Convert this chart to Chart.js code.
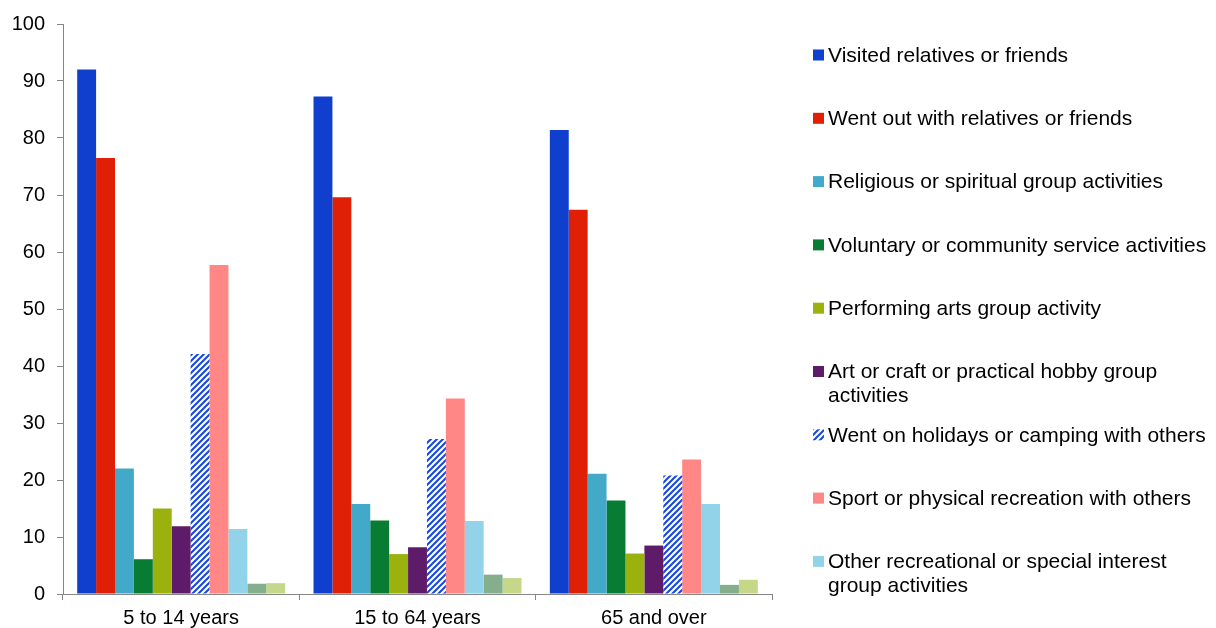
<!DOCTYPE html>
<html>
<head>
<meta charset="utf-8">
<script src="https://cdn.jsdelivr.net/npm/chart.js@4"></script>
<style>
  html, body { margin: 0; padding: 0; background: #fff; }
  #wrap { width: 1216px; height: 628px; position: relative; }
</style>
</head>
<body>
<div id="wrap"><canvas id="chart" width="1216" height="628"></canvas></div>
<script>
const categories = ['5 to 14 years', '15 to 64 years', '65 and over'];

const seriesNames = [
  'Visited relatives or friends',
  'Went out with relatives or friends',
  'Religious or spiritual group activities',
  'Voluntary or community service activities',
  'Performing arts group activity',
  'Art or craft or practical hobby group activities',
  'Went on holidays or camping with others',
  'Sport or physical recreation with others',
  'Other recreational or special interest group activities',
  'Series 10',
  'Series 11'
];

// legend text split into lines as in the picture (last two series are cut off there)
const legendLines = [
  ['Visited relatives or friends'],
  ['Went out with relatives or friends'],
  ['Religious or spiritual group activities'],
  ['Voluntary or community service activities'],
  ['Performing arts group activity'],
  ['Art or craft or practical hobby group', 'activities'],
  ['Went on holidays or camping with others'],
  ['Sport or physical recreation with others'],
  ['Other recreational or special interest', 'group activities']
];

const visited    = [92.0, 87.3, 81.4];
const wentOut    = [76.5, 69.6, 67.4];
const religious  = [22.0, 15.8, 21.1];
const voluntary  = [6.1, 12.9, 16.4];
const performing = [15.0, 7.0, 7.1];
const artCraft   = [11.9, 8.2, 8.5];
const holidays   = [42.1, 27.2, 20.8];
const sport      = [57.7, 34.3, 23.6];
const otherRec   = [11.4, 12.8, 15.8];
const series10   = [1.8, 3.4, 1.6];
const series11   = [1.9, 2.8, 2.5];

const yTicks = [0, 10, 20, 30, 40, 50, 60, 70, 80, 90, 100];

const ctx = document.getElementById('chart').getContext('2d');

function hatch() {
  const c = document.createElement('canvas');
  c.width = 6; c.height = 6;
  const x = c.getContext('2d');
  x.fillStyle = '#ffffff';
  x.fillRect(0, 0, 6, 6);
  x.strokeStyle = '#1446e6';
  x.lineWidth = 2;
  x.beginPath();
  x.moveTo(-1, 7); x.lineTo(7, -1);
  x.moveTo(-4, 4); x.lineTo(4, -4);
  x.moveTo(2, 10); x.lineTo(10, 2);
  x.stroke();
  return ctx.createPattern(c, 'repeat');
}

const colors = ['#0f3fcc', '#e01f07', '#43a9c8', '#087c33', '#9bb20e', '#5e1b6a',
  hatch(), '#ff8886', '#93d3ea', '#85af8c', '#c5d88a'];

const values = [visited, wentOut, religious, voluntary, performing, artCraft,
  holidays, sport, otherRec, series10, series11];

const legendPlugin = {
  id: 'sideLegend',
  afterDraw(chart) {
    const c = chart.ctx;
    c.save();
    c.font = '21px "Liberation Sans", Arial, sans-serif';
    c.fillStyle = '#000';
    c.textBaseline = 'middle';
    legendLines.forEach((lines, i) => {
      const y = 55 + i * 63.3;
      c.fillStyle = colors[i];
      c.fillRect(813, y - 5.5, 11, 11);
      c.fillStyle = '#000';
      lines.forEach((t, j) => c.fillText(t, 828, y + 1 + j * 24));
    });
    c.restore();
  }
};

new Chart(ctx, {
  type: 'bar',
  data: {
    labels: categories,
    datasets: seriesNames.map((name, i) => ({
      label: name,
      data: values[i],
      backgroundColor: colors[i],
      borderWidth: 0,
      categoryPercentage: 0.88,
      barPercentage: 1
    }))
  },
  options: {
    responsive: false,
    animation: false,
    layout: { padding: { top: 22, right: 444, left: 0, bottom: 0 } },
    plugins: {
      legend: { display: false },
      tooltip: { enabled: false }
    },
    scales: {
      x: {
        offset: true,
        grid: {
          offset: true,
          drawOnChartArea: false,
          color: '#868686',
          tickLength: 6
        },
        border: { color: '#868686', width: 1 },
        ticks: {
          color: '#000',
          padding: 6,
          font: { family: '"Liberation Sans", Arial, sans-serif', size: 20 }
        },
        afterFit(axis) { axis.height = 34; }
      },
      y: {
        min: 0,
        max: 100,
        afterBuildTicks(axis) { axis.ticks = yTicks.map(v => ({ value: v })); },
        grid: {
          drawOnChartArea: false,
          color: '#868686',
          tickLength: 6
        },
        border: { color: '#868686', width: 1 },
        ticks: {
          color: '#000',
          padding: 12,
          font: { family: '"Liberation Sans", Arial, sans-serif', size: 20 }
        },
        afterFit(axis) { axis.width = 63; }
      }
    }
  },
  plugins: [legendPlugin]
});
</script>
</body>
</html>
